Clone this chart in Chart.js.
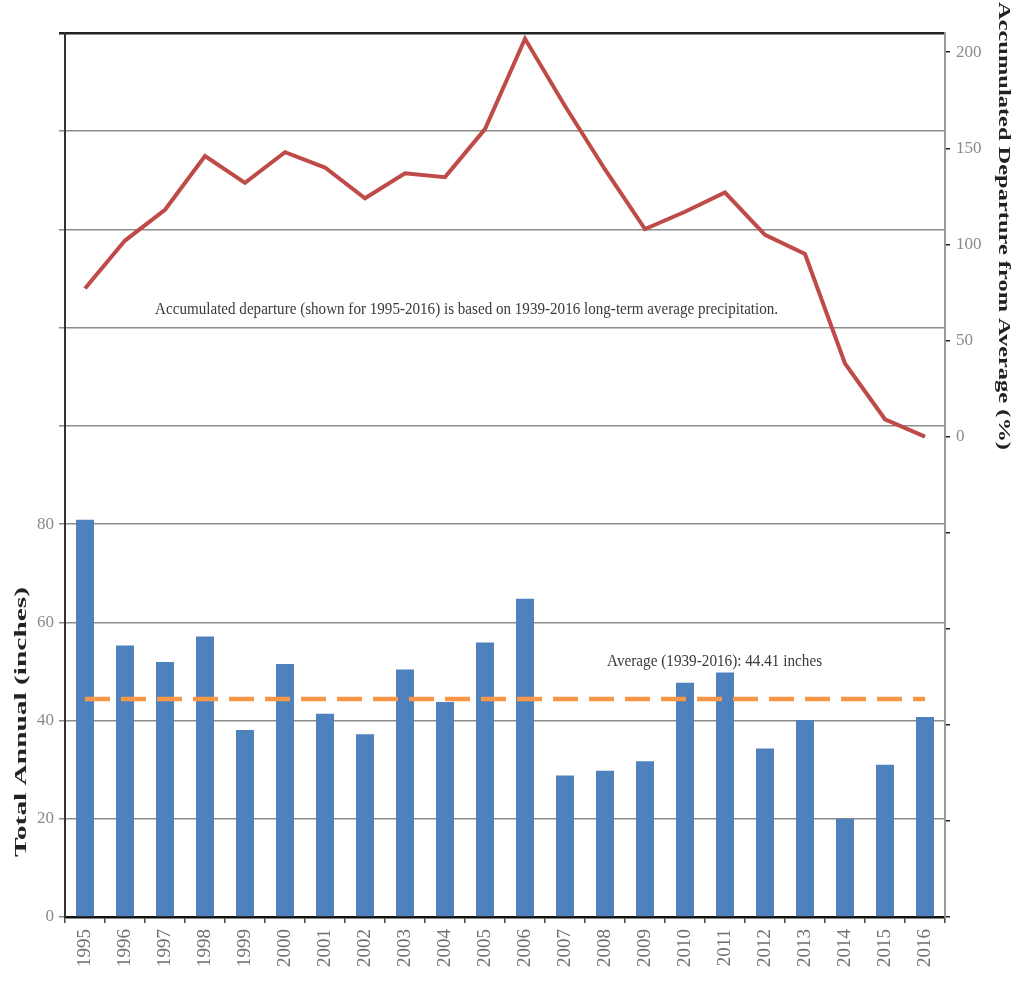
<!DOCTYPE html>
<html>
<head>
<meta charset="utf-8">
<script src="https://cdn.jsdelivr.net/npm/chart.js@4"></script>
<style>
  html, body { margin: 0; padding: 0; background: #fff; }
  #wrap { width: 1014px; height: 982px; }
</style>
</head>
<body>
<div id="wrap"><canvas id="precipChart" width="1014" height="982"></canvas></div>
<script>
  // chart data
  var years = ['1995','1996','1997','1998','1999','2000','2001','2002','2003','2004','2005',
               '2006','2007','2008','2009','2010','2011','2012','2013','2014','2015','2016'];
  var annualInches = [80.9, 55.3, 51.9, 57.1, 38.1, 51.5, 41.4, 37.2, 50.4, 43.8, 55.9,
                      64.8, 28.8, 29.8, 31.7, 47.7, 49.8, 34.3, 40.1, 20.0, 31.0, 40.7];
  var accumDeparture = [77, 102, 118, 146, 132, 148, 140, 124, 137, 135, 160,
                        207, 172, 139, 108, 117, 127, 105, 95, 38, 9, 0];
  var avgInches = 44.41;
  var avgLine = years.map(function(){ return avgInches; });
  var leftTickLabels = [0, 20, 40, 60, 80];
  var rightTickValues = [-250, -200, -150, -100, -50, 0, 50, 100, 150, 200];
  var rightTickLabels = [0, 50, 100, 150, 200];

  var noteText = 'Accumulated departure (shown for 1995-2016) is based on 1939-2016 long-term average precipitation.';
  var avgText = 'Average (1939-2016): 44.41 inches';
  var leftTitle = 'Total Annual (inches)';
  var rightTitle = 'Accumulated Departure from Average (%)';

  var SERIF = '"Liberation Serif", "DejaVu Serif", serif';

  // draw text stretched/condensed along its own direction to a given length
  function fitText(ctx, text, cx, cy, length, rot, font, color){
    ctx.save();
    ctx.font = font;
    ctx.fillStyle = color;
    ctx.textAlign = 'center';
    ctx.textBaseline = 'middle';
    var w = ctx.measureText(text).width;
    ctx.translate(cx, cy);
    ctx.rotate(rot);
    ctx.scale(length / w, 1);
    ctx.fillText(text, 0, 0);
    ctx.restore();
  }

  var textPlugin = {
    id: 'textPlugin',
    afterDraw: function(chart){
      var ctx = chart.ctx;
      var x = chart.scales.x, yL = chart.scales.yL, yR = chart.scales.yR;
      fitText(ctx, noteText, x.getPixelForValue(9.54), yR.getPixelForValue(66), 623, 0,
              '17px ' + SERIF, '#3a3a3a');
      fitText(ctx, avgText, x.getPixelForValue(15.74), yL.getPixelForValue(52.1), 215, 0,
              '17px ' + SERIF, '#3a3a3a');
      fitText(ctx, leftTitle, 22, 722, 270, -Math.PI / 2, 'bold 17px ' + SERIF, '#222');
      fitText(ctx, rightTitle, 1003, 226, 448, Math.PI / 2, 'bold 17px ' + SERIF, '#222');
    }
  };

  function initChart(){
    var ctx = document.getElementById('precipChart');
    new Chart(ctx, {
      data: {
        labels: years,
        datasets: [
          { type: 'line', label: 'Accumulated departure', data: accumDeparture, yAxisID: 'yR',
            borderColor: '#be4b48', borderWidth: 4, pointRadius: 0, tension: 0, order: 1 },
          { type: 'line', label: 'Average', data: avgLine, yAxisID: 'yL',
            borderColor: '#f79646', borderWidth: 4.5, borderDash: [25, 11], borderCapStyle: 'butt',
            pointRadius: 0, order: 2 },
          { type: 'bar', label: 'Total annual', data: annualInches, yAxisID: 'yL',
            backgroundColor: '#4f81bd', barPercentage: 0.45, categoryPercentage: 1, order: 3 }
        ]
      },
      options: {
        responsive: false,
        animation: false,
        layout: { padding: { top: 33, left: 0, right: 0, bottom: 0 } },
        plugins: { legend: { display: false }, tooltip: { enabled: false } },
        scales: {
          x: {
            offset: true,
            grid: { offset: true, drawOnChartArea: false, tickLength: 6, color: '#444', lineWidth: 1.5 },
            border: { color: '#111', width: 2.5 },
            ticks: { minRotation: 90, maxRotation: 90, padding: 6, color: '#6f6f6f',
                     font: { family: SERIF, size: 19 } },
            afterFit: function(s){ s.height = 65; }
          },
          yL: {
            position: 'left',
            min: 0, max: 180,
            ticks: { stepSize: 20, padding: 5, color: '#8a8a8a', font: { family: SERIF, size: 17 },
                     callback: function(v){ return leftTickLabels.indexOf(v) >= 0 ? v : ''; } },
            grid: { tickLength: 6,
                    color: function(c){ return c.tick && c.tick.value === 180 ? '#222' : '#8c8c8c'; },
                    lineWidth: function(c){ return c.tick && c.tick.value === 180 ? 2.5 : 1.5; } },
            border: { color: '#333', width: 2 },
            afterFit: function(s){ s.width = 65; }
          },
          yR: {
            position: 'right',
            min: -250, max: 210,
            afterBuildTicks: function(s){
              s.ticks = rightTickValues.map(function(v){ return { value: v }; });
            },
            ticks: { padding: 6, color: '#8a8a8a', font: { family: SERIF, size: 17 },
                     callback: function(v){ return rightTickLabels.indexOf(v) >= 0 ? v : ''; } },
            grid: { drawOnChartArea: false, tickLength: 5, color: '#222', lineWidth: 1.5 },
            border: { color: '#9a9a9a', width: 2 },
            afterFit: function(s){ s.width = 69; }
          }
        }
      },
      plugins: [textPlugin]
    });
  }

  document.addEventListener('DOMContentLoaded', initChart);
</script>
</body>
</html>
